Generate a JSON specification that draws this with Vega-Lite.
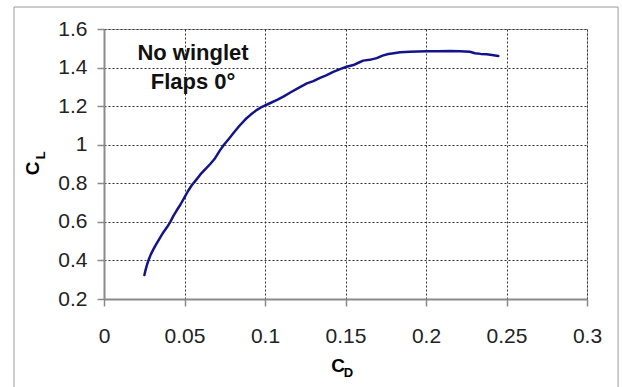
{
  "$schema": "https://vega.github.io/schema/vega-lite/v6.json",
  "autosize": {"type": "none"},
  "width": 483,
  "height": 270,
  "padding": {"left": 104, "top": 29, "right": 35, "bottom": 88},
  "background": "white",
  "config": {
    "font": "Liberation Sans",
    "view": {"stroke": "#b4b4b4", "strokeWidth": 1},
    "axis": {
      "labelFont": "Liberation Sans",
      "labelFontSize": 21,
      "labelColor": "#222222",
      "labelOverlap": false,
      "labelFlush": false,
      "titleFont": "Liberation Sans",
      "titleFontWeight": "bold",
      "titleFontSize": 19,
      "titleColor": "#000000",
      "domainColor": "#8a8a8a",
      "domainWidth": 2,
      "tickColor": "#8a8a8a",
      "tickWidth": 1.5,
      "tickSize": 7,
      "grid": true,
      "gridColor": "#333333",
      "gridWidth": 1,
      "gridDash": [2, 2]
    }
  },
  "datasets": {
    "polar": [
      {"cd": 0.0251, "cl": 0.324},
      {"cd": 0.0258, "cl": 0.35},
      {"cd": 0.0268, "cl": 0.38},
      {"cd": 0.0276, "cl": 0.40},
      {"cd": 0.0290, "cl": 0.43},
      {"cd": 0.0305, "cl": 0.455},
      {"cd": 0.0320, "cl": 0.478},
      {"cd": 0.0343, "cl": 0.51},
      {"cd": 0.0368, "cl": 0.545},
      {"cd": 0.0392, "cl": 0.573},
      {"cd": 0.0412, "cl": 0.60},
      {"cd": 0.0432, "cl": 0.632},
      {"cd": 0.0452, "cl": 0.66},
      {"cd": 0.0475, "cl": 0.69},
      {"cd": 0.0500, "cl": 0.727},
      {"cd": 0.0522, "cl": 0.76},
      {"cd": 0.0545, "cl": 0.79},
      {"cd": 0.0570, "cl": 0.815},
      {"cd": 0.0600, "cl": 0.847},
      {"cd": 0.0628, "cl": 0.872},
      {"cd": 0.0660, "cl": 0.900},
      {"cd": 0.0690, "cl": 0.93},
      {"cd": 0.0718, "cl": 0.968},
      {"cd": 0.0745, "cl": 1.0},
      {"cd": 0.0775, "cl": 1.03},
      {"cd": 0.0803, "cl": 1.059},
      {"cd": 0.0840, "cl": 1.097},
      {"cd": 0.0880, "cl": 1.133},
      {"cd": 0.0910, "cl": 1.155},
      {"cd": 0.0945, "cl": 1.178},
      {"cd": 0.0985, "cl": 1.198},
      {"cd": 0.1030, "cl": 1.215},
      {"cd": 0.1075, "cl": 1.232},
      {"cd": 0.1114, "cl": 1.249},
      {"cd": 0.1160, "cl": 1.272},
      {"cd": 0.1217, "cl": 1.299},
      {"cd": 0.1260, "cl": 1.318},
      {"cd": 0.1300, "cl": 1.330},
      {"cd": 0.1342, "cl": 1.347},
      {"cd": 0.1380, "cl": 1.36},
      {"cd": 0.1424, "cl": 1.378},
      {"cd": 0.1470, "cl": 1.393},
      {"cd": 0.1507, "cl": 1.404},
      {"cd": 0.1549, "cl": 1.413},
      {"cd": 0.1580, "cl": 1.425},
      {"cd": 0.1610, "cl": 1.436},
      {"cd": 0.1650, "cl": 1.440},
      {"cd": 0.1694, "cl": 1.449},
      {"cd": 0.1730, "cl": 1.462},
      {"cd": 0.1766, "cl": 1.470},
      {"cd": 0.1800, "cl": 1.474},
      {"cd": 0.1839, "cl": 1.479},
      {"cd": 0.1900, "cl": 1.482},
      {"cd": 0.1950, "cl": 1.483},
      {"cd": 0.2004, "cl": 1.485},
      {"cd": 0.2075, "cl": 1.485},
      {"cd": 0.2149, "cl": 1.486},
      {"cd": 0.2210, "cl": 1.484},
      {"cd": 0.2273, "cl": 1.482},
      {"cd": 0.2304, "cl": 1.474},
      {"cd": 0.2340, "cl": 1.471},
      {"cd": 0.2377, "cl": 1.469},
      {"cd": 0.2410, "cl": 1.465},
      {"cd": 0.2449, "cl": 1.460}
    ]
  },
  "layer": [
    {
      "description": "Outer chart-area frame",
      "data": {"values": [{}]},
      "mark": {"type": "rect", "fillOpacity": 0, "stroke": "#9a9a9a", "strokeWidth": 1, "clip": false},
      "encoding": {
        "x": {"datum": -0.0559, "type": "quantitative"},
        "x2": {"datum": 0.3193},
        "y": {"datum": 1.714, "type": "quantitative"},
        "y2": {"datum": -0.272}
      }
    },
    {
      "description": "Lift vs drag polar",
      "data": {"name": "polar"},
      "mark": {"type": "line", "color": "#14148a", "strokeWidth": 2.5, "strokeJoin": "round", "strokeCap": "round"},
      "encoding": {
        "x": {
          "field": "cd",
          "type": "quantitative",
          "scale": {"domain": [0, 0.3], "nice": false, "zero": false},
          "axis": {
            "values": [0, 0.05, 0.1, 0.15, 0.2, 0.25, 0.3],
            "tickCount": 7,
            "format": "~g",
            "grid": true,
            "labelOverlap": false,
            "labelFlush": false,
            "labelPadding": 19,
            "title": "C",
            "titleX": 233.5,
            "titleY": 66.8,
            "titleAlign": "center",
            "titleBaseline": "middle"
          }
        },
        "y": {
          "field": "cl",
          "type": "quantitative",
          "scale": {"domain": [0.2, 1.6], "nice": false, "zero": false},
          "axis": {
            "values": [0.2, 0.4, 0.6, 0.8, 1, 1.2, 1.4, 1.6],
            "tickCount": 8,
            "format": "~g",
            "grid": true,
            "labelOverlap": false,
            "labelFlush": false,
            "labelPadding": 10,
            "title": "C",
            "titleAngle": 270,
            "titleX": -72,
            "titleY": 139,
            "titleAlign": "center",
            "titleBaseline": "middle"
          }
        }
      }
    },
    {
      "description": "Configuration note",
      "data": {"values": [{}]},
      "mark": {
        "type": "text",
        "text": ["No winglet", "Flaps 0°"],
        "font": "Liberation Sans",
        "fontWeight": "bold",
        "fontSize": 22,
        "lineHeight": 29,
        "align": "center",
        "baseline": "alphabetic",
        "color": "#111111"
      },
      "encoding": {
        "x": {"datum": 0.0553, "type": "quantitative"},
        "y": {"datum": 1.439, "type": "quantitative"}
      }
    },
    {
      "description": "Subscript D of the x-axis title",
      "data": {"values": [{}]},
      "mark": {"type": "text", "text": "D", "font": "Liberation Sans", "fontWeight": "bold", "fontSize": 13, "align": "center", "baseline": "middle", "color": "#000000"},
      "encoding": {
        "x": {"datum": 0.1518, "type": "quantitative"},
        "y": {"datum": -0.183, "type": "quantitative"}
      }
    },
    {
      "description": "Subscript L of the y-axis title",
      "data": {"values": [{}]},
      "mark": {"type": "text", "text": "L", "angle": 270, "font": "Liberation Sans", "fontWeight": "bold", "fontSize": 13, "align": "center", "baseline": "middle", "color": "#000000"},
      "encoding": {
        "x": {"datum": -0.0389, "type": "quantitative"},
        "y": {"datum": 0.945, "type": "quantitative"}
      }
    }
  ]
}
